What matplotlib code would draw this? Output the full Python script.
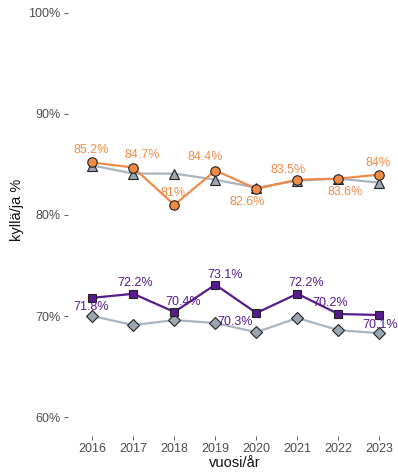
"""Yes-share by year, two groups with their reference series (line chart with labels)."""

import matplotlib

matplotlib.use("Agg")
import matplotlib.pyplot as plt

plt.rcParams["font.family"] = ["Liberation Sans", "DejaVu Sans"]

years = [2016, 2017, 2018, 2019, 2020, 2021, 2022, 2023]

# upper group: highlighted series (orange) + comparison (grey triangles)
upper_vals = [85.2, 84.7, 81.0, 84.4, 82.6, 83.5, 83.6, 84.0]
upper_labels = ["85.2%", "84.7%", "81%", "84.4%", "82.6%", "83.5%", "83.6%", "84%"]
upper_ref = [84.9, 84.1, 84.1, 83.5, 82.7, 83.4, 83.6, 83.2]

# lower group: highlighted series (purple) + comparison (grey diamonds)
lower_vals = [71.8, 72.2, 70.4, 73.1, 70.3, 72.2, 70.2, 70.1]
lower_labels = ["71.8%", "72.2%", "70.4%", "73.1%", "70.3%", "72.2%", "70.2%", "70.1%"]
lower_ref = [70.0, 69.1, 69.6, 69.3, 68.4, 69.8, 68.6, 68.3]

y_ticks = [60, 70, 80, 90, 100]

ORANGE = "#EF8B47"
PURPLE = "#561B8C"
GREY_LINE = "#A8B5C0"
GREY_FILL = "#9BA6B0"

# label offsets in pixels (repel-style placement)
upper_offsets = [(-1, 12), (9, 13), (-1, 12), (-10, 14), (-9, -13), (-9, 10), (7, -13), (-1, 12)]
lower_offsets = [(-1, -9), (2, 11), (9, 10), (10, 10), (-21, -9), (9, 11), (-8, 11), (1, -10)]

W, H = 398, 473
fig = plt.figure(figsize=(W / 100, H / 100), dpi=100)
# panel spans px x 67.7..404, y -16..436 (slightly cropped like the original)
ax = fig.add_axes([67.7 / W, 37 / H, (404 - 67.7) / W, 452 / H])
ax.set_xlim(2015.4, 2023.6)
ax.set_ylim(58.12, 102.87)

ax.plot(years, upper_ref, "-", color=GREY_LINE, lw=1.6, zorder=2)
ax.plot(years, upper_ref, "^", ms=7.5, mfc=GREY_FILL, mec="#222222", mew=0.8, zorder=3)
ax.plot(years, upper_vals, "-", color=ORANGE, lw=1.6, zorder=4)
ax.plot(years, upper_vals, "o", ms=6.8, mfc=ORANGE, mec="#222222", mew=0.8, zorder=5)

ax.plot(years, lower_ref, "-", color=GREY_LINE, lw=1.6, zorder=2)
ax.plot(years, lower_ref, "D", ms=5.8, mfc=GREY_FILL, mec="#222222", mew=0.8, zorder=3)
ax.plot(years, lower_vals, "-", color=PURPLE, lw=1.6, zorder=4)
ax.plot(years, lower_vals, "s", ms=6.2, mfc=PURPLE, mec="#222222", mew=0.8, zorder=5)

for x, y, lab, (dx, dy) in zip(years, upper_vals, upper_labels, upper_offsets):
    ax.annotate(lab, (x, y), xytext=(dx, dy), textcoords="offset pixels",
                ha="center", va="center", fontsize=9, color=ORANGE, zorder=6,
                annotation_clip=False)
for x, y, lab, (dx, dy) in zip(years, lower_vals, lower_labels, lower_offsets):
    ax.annotate(lab, (x, y), xytext=(dx, dy), textcoords="offset pixels",
                ha="center", va="center", fontsize=9, color=PURPLE, zorder=6,
                annotation_clip=False)

ax.set_xticks(years)
ax.set_xticklabels([str(y) for y in years])
ax.set_yticks(y_ticks)
ax.set_yticklabels([f"{t}%" for t in y_ticks])
ax.tick_params(axis="both", colors="#444444", labelcolor="#4D4D4D", labelsize=9,
               length=3, width=0.6, pad=2)
for s in ax.spines.values():
    s.set_visible(False)

ax.set_xlabel("vuosi/år", fontsize=10.5, color="#111111")
ax.set_ylabel("kyllä/ja %", fontsize=10.5, color="#111111")
ax.xaxis.set_label_coords((235 - 67.7) / (404 - 67.7), -(456 - 436) / 452)
ax.yaxis.set_label_coords(-(67.7 - 24) / (404 - 67.7), (436 - 210) / 452)

fig.savefig("out.png", dpi=100)
plt.close(fig)
